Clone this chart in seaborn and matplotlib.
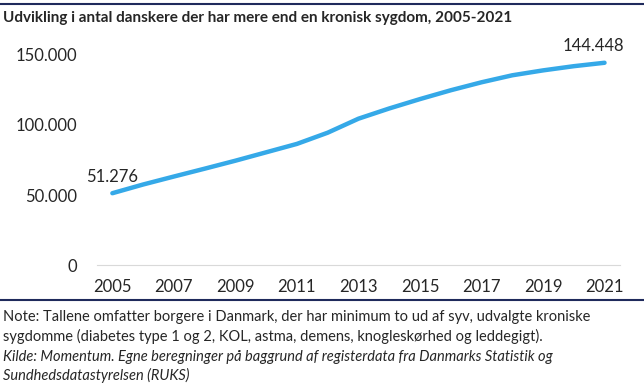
import matplotlib
matplotlib.use('Agg')
from matplotlib import pyplot as plt
from matplotlib.lines import Line2D
from matplotlib.ticker import FuncFormatter
import pandas as pd
import seaborn as sns

sns.set_style('white')
plt.rcParams['font.family'] = ['Lato', 'DejaVu Sans']

years = list(range(2005, 2022))
patients = [51276, 57500, 63200, 68800, 74500, 80500, 86500, 94500, 104500,
            111800, 118500, 124800, 130500, 135500, 139000, 142000, 144448]
year_ticks = list(range(2005, 2022, 2))
title = 'Udvikling i antal danskere der har mere end en kronisk sygdom, 2005-2021'
note = ('Note: Tallene omfatter borgere i Danmark, der har minimum to ud af syv, udvalgte kroniske\n'
        'sygdomme (diabetes type 1 og 2, KOL, astma, demens, knogleskørhed og leddegigt).')
source = ('Kilde: Momentum. Egne beregninger på baggrund af registerdata fra Danmarks Statistik og\n'
          'Sundhedsdatastyrelsen (RUKS)')

df = pd.DataFrame({'year': years, 'patients': patients})
BLUE = '#35A9E8'
NAVY = '#1F2A5C'

fig = plt.figure(figsize=(6.44, 3.90), dpi=100)
ax = fig.add_axes([0.1506, 0.3205, 0.812, 0.5744])
sns.lineplot(data=df, x='year', y='patients', ax=ax, color=BLUE, lw=3.2,
             solid_capstyle='round')

ax.set_xlim(2004.5, 2021.5)
ax.set_ylim(0, 160000)
ax.set_yticks([0, 50000, 100000, 150000])
ax.yaxis.set_major_formatter(FuncFormatter(lambda v, p: '{:,.0f}'.format(v).replace(',', '.')))
ax.set_xticks(year_ticks)
ax.set_xticks([y + 0.5 for y in range(2004, 2022)], minor=True)
ax.tick_params(axis='x', which='major', length=0, labelsize=12, pad=10)
ax.tick_params(axis='x', which='minor', length=5, color='#D9D9D9', width=1)
ax.tick_params(axis='y', length=0, labelsize=12, pad=14)
ax.set_xlabel('')
ax.set_ylabel('')
for s in ['left', 'right', 'top']:
    ax.spines[s].set_visible(False)
ax.spines['bottom'].set_color('#D9D9D9')

# data labels at first and last point
ax.annotate('{:,.0f}'.format(patients[0]).replace(',', '.'), (years[0], patients[0]),
            xytext=(0, 12), textcoords='offset points', ha='center', va='center', fontsize=12)
ax.annotate('{:,.0f}'.format(patients[-1]).replace(',', '.'), (years[-1], patients[-1]),
            xytext=(-8, 12), textcoords='offset points', ha='center', va='center', fontsize=12)

fig.text(0.004, 0.955, title, fontsize=11, fontweight='bold', va='center', ha='left')
fig.add_artist(Line2D([0, 1], [0.99, 0.99], color=NAVY, lw=1.5))
fig.add_artist(Line2D([0, 1], [0.231, 0.231], color=NAVY, lw=1.5))
fig.text(0.004, 0.205, note, fontsize=10.5, va='top', ha='left', linespacing=1.38)
fig.text(0.004, 0.103, source, fontsize=10.5, va='top', ha='left', style='italic', linespacing=1.38)

plt.savefig('out.png', dpi=100)
